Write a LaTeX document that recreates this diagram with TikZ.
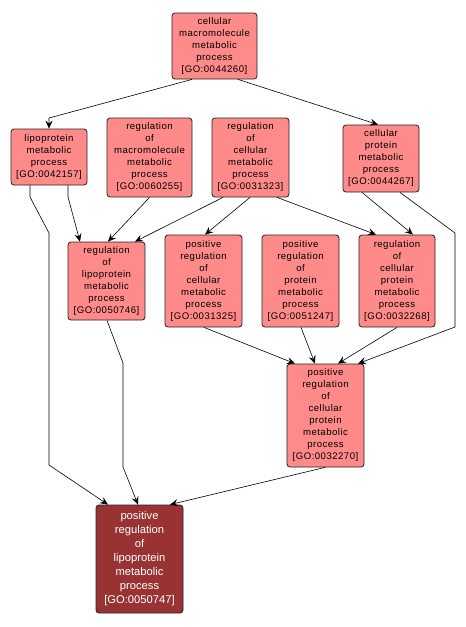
\documentclass[tikz,border=0pt]{standalone}
\usepackage{fontspec}
\setmainfont{Liberation Sans}
\newfontfamily\gofont[LetterSpace=5]{Liberation Sans}
\usetikzlibrary{arrows.meta}
\definecolor{lightgo}{HTML}{FF8A8A}
\definecolor{darkgo}{HTML}{993333}
\definecolor{edgego}{HTML}{222222}
\tikzset{
  goterm/.style={draw=edgego, line width=0.8pt, fill=lightgo, rounded corners=3pt,
    inner sep=0pt, align=center, font=\gofont\fontsize{9.6}{12}\selectfont, text=black},
  goroot/.style={goterm, fill=darkgo, text=white, font=\fontsize{11.2}{14}\selectfont},
  golink/.style={draw=black, line width=0.6pt, -{Stealth[length=8pt,width=7pt,inset=3pt]}}
}
\begin{document}
\begin{tikzpicture}[x=1pt,y=-1pt]
\useasboundingbox (0,0) rectangle (466,627);
\fill[white] (0,0) rectangle (466,627);
\node[goterm, minimum width=85pt, minimum height=66pt] (A) at (214.5,46) {cellular\\macromolecule\\metabolic\\process\\{[}GO:0044260{]}};
\node[goterm, minimum width=76pt, minimum height=56pt] (B) at (49,157) {lipoprotein\\metabolic\\process\\{[}GO:0042157{]}};
\node[goterm, minimum width=85pt, minimum height=79pt] (C) at (149.5,157.5) {regulation\\of\\macromolecule\\metabolic\\process\\{[}GO:0060255{]}};
\node[goterm, minimum width=77pt, minimum height=79pt] (D) at (250.5,157.5) {regulation\\of\\cellular\\metabolic\\process\\{[}GO:0031323{]}};
\node[goterm, minimum width=76pt, minimum height=67pt] (E) at (381,158.5) {cellular\\protein\\metabolic\\process\\{[}GO:0044267{]}};
\node[goterm, minimum width=77pt, minimum height=78pt] (F) at (106.5,281) {regulation\\of\\lipoprotein\\metabolic\\process\\{[}GO:0050746{]}};
\node[goterm, minimum width=77pt, minimum height=92pt] (G) at (203.5,281) {positive\\regulation\\of\\cellular\\metabolic\\process\\{[}GO:0031325{]}};
\node[goterm, minimum width=77pt, minimum height=92pt] (H) at (300.5,281) {positive\\regulation\\of\\protein\\metabolic\\process\\{[}GO:0051247{]}};
\node[goterm, minimum width=76pt, minimum height=92pt] (I) at (397,281) {regulation\\of\\cellular\\protein\\metabolic\\process\\{[}GO:0032268{]}};
\node[goterm, minimum width=77pt, minimum height=103pt] (J) at (325.5,415.5) {positive\\regulation\\of\\cellular\\protein\\metabolic\\process\\{[}GO:0032270{]}};
\node[goroot, minimum width=87pt, minimum height=108pt] (K) at (139.5,559) {positive\\regulation\\of\\lipoprotein\\metabolic\\process\\{[}GO:0050747{]}};
% edges
\draw[golink] ([xshift=-22.5pt]A.south) -- (49,118) -- (B.north);
\draw[golink] ([xshift=23.5pt]A.south) -- ([xshift=-3pt]E.north);
\draw[golink] ([xshift=19pt]B.south) -- (68,197) -- ([xshift=-26.5pt]F.north);
\draw[golink] ([xshift=-19pt]B.south) -- (30,197) -- (49,233) -- (49,465) -- ([xshift=-31.5pt]K.north);
\draw[golink] ([xshift=0pt]C.south) -- ([xshift=1.5pt]F.north);
\draw[golink] ([xshift=-27.5pt]D.south) -- ([xshift=28.5pt]F.north);
\draw[golink] ([xshift=-0.5pt]D.south) -- ([xshift=1.5pt]G.north);
\draw[golink] ([xshift=26.5pt]D.south) -- ([xshift=-21pt]I.north);
\draw[golink] ([xshift=-19pt]E.south) -- ([xshift=16pt]I.north);
\draw[golink] ([xshift=19pt]E.south) -- (455,233) -- (455,327) -- ([xshift=32.5pt]J.north);
\draw[golink] ([xshift=0.5pt]F.south) -- (123,363) -- (123,467) -- ([xshift=-1.5pt]K.north);
\draw[golink] ([xshift=0.5pt]G.south) -- ([xshift=-30.5pt]J.north);
\draw[golink] ([xshift=0.5pt]H.south) -- ([xshift=-10.5pt]J.north);
\draw[golink] ([xshift=0pt]I.south) -- ([xshift=12.5pt]J.north);
\draw[golink] ([xshift=-0.5pt]J.south) -- ([xshift=30.5pt]K.north);
\end{tikzpicture}
\end{document}
